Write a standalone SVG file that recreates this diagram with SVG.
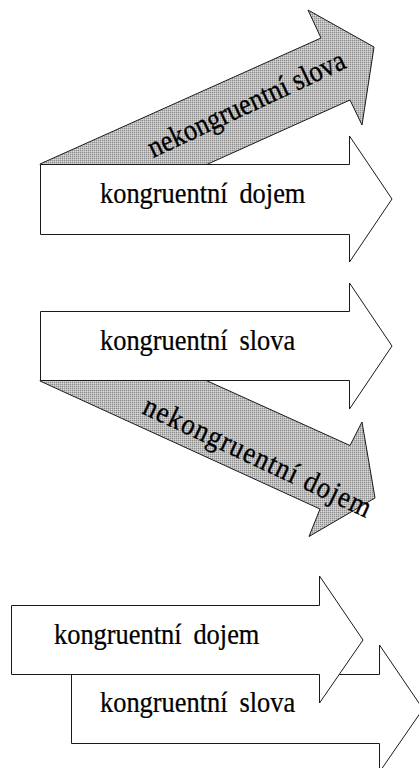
<svg xmlns="http://www.w3.org/2000/svg" width="419" height="768" viewBox="0 0 419 768">
  <defs>
    <!-- halftone grey used for the slanted arrows -->
    <pattern id="halftone" width="2" height="2" patternUnits="userSpaceOnUse">
      <rect width="2" height="2" fill="#bcbcbc"/>
      <rect width="1" height="1" fill="#8c8c8c"/>
      <rect x="1" y="1" width="1" height="1" fill="#d8d8d8"/>
    </pattern>
  </defs>
  <style>
    .white { fill: #ffffff; stroke: #1a1a1a; stroke-width: 1; stroke-linejoin: miter; }
    .grey { fill: url(#halftone); stroke: #1a1a1a; stroke-width: 1; stroke-linejoin: miter; }
    .label { font-family: "Liberation Serif", "Times New Roman", serif; font-size: 30px; fill: #000; stroke: #000; stroke-width: 0.25; word-spacing: 6px; }
    .slanted { font-family: "Liberation Serif", "Times New Roman", serif; font-size: 30px; fill: #000; stroke: #000; stroke-width: 0.35; }
  </style>
  <rect width="419" height="768" fill="#ffffff"/>

  <!-- top pair: incongruent words rising above congruent impression -->
  <g id="nekongruentni-slova">
    <polygon class="grey" points="40,164 321,38 308,10 374,47 362,125 350,100 68,227"/>
    <text class="slanted" transform="translate(153,158) rotate(-25) scale(0.88,1)" textLength="244" lengthAdjust="spacing">nekongruentní slova</text>
  </g>
  <g id="kongruentni-dojem-1">
    <polygon class="white" points="40.5,164.5 349.5,164.5 349.5,136 392,199 349.5,262 349.5,234.5 40.5,234.5"/>
    <text class="label" transform="translate(100,203) scale(0.88,1)">kongruentní dojem</text>
  </g>

  <!-- middle pair: incongruent impression dropping below congruent words -->
  <g id="nekongruentni-dojem">
    <polygon class="grey" points="40,381 320,509 309,536.5 375,498 362,422 350,445.5 68,318"/>
    <text class="slanted" transform="translate(141,413) rotate(25) scale(0.88,1)" textLength="282" lengthAdjust="spacing">nekongruentní dojem</text>
  </g>
  <g id="kongruentni-slova-1">
    <polygon class="white" points="40.5,311.5 349.5,311.5 349.5,283 392,346 349.5,409 349.5,380.5 40.5,380.5"/>
    <text class="label" transform="translate(100,350) scale(0.88,1)">kongruentní slova</text>
  </g>

  <!-- bottom pair: both congruent, offset one behind the other -->
  <g id="kongruentni-slova-2">
    <polygon class="white" points="71.5,674.5 379.5,674.5 379.5,645 423,709 379.5,772 379.5,743.5 71.5,743.5"/>
    <text class="label" transform="translate(100,712) scale(0.88,1)">kongruentní slova</text>
  </g>
  <g id="kongruentni-dojem-2">
    <polygon class="white" points="11.5,605.5 319.5,605.5 319.5,576 363,640 319.5,703 319.5,674.5 11.5,674.5"/>
    <text class="label" transform="translate(54,643.5) scale(0.88,1)">kongruentní dojem</text>
  </g>
</svg>
